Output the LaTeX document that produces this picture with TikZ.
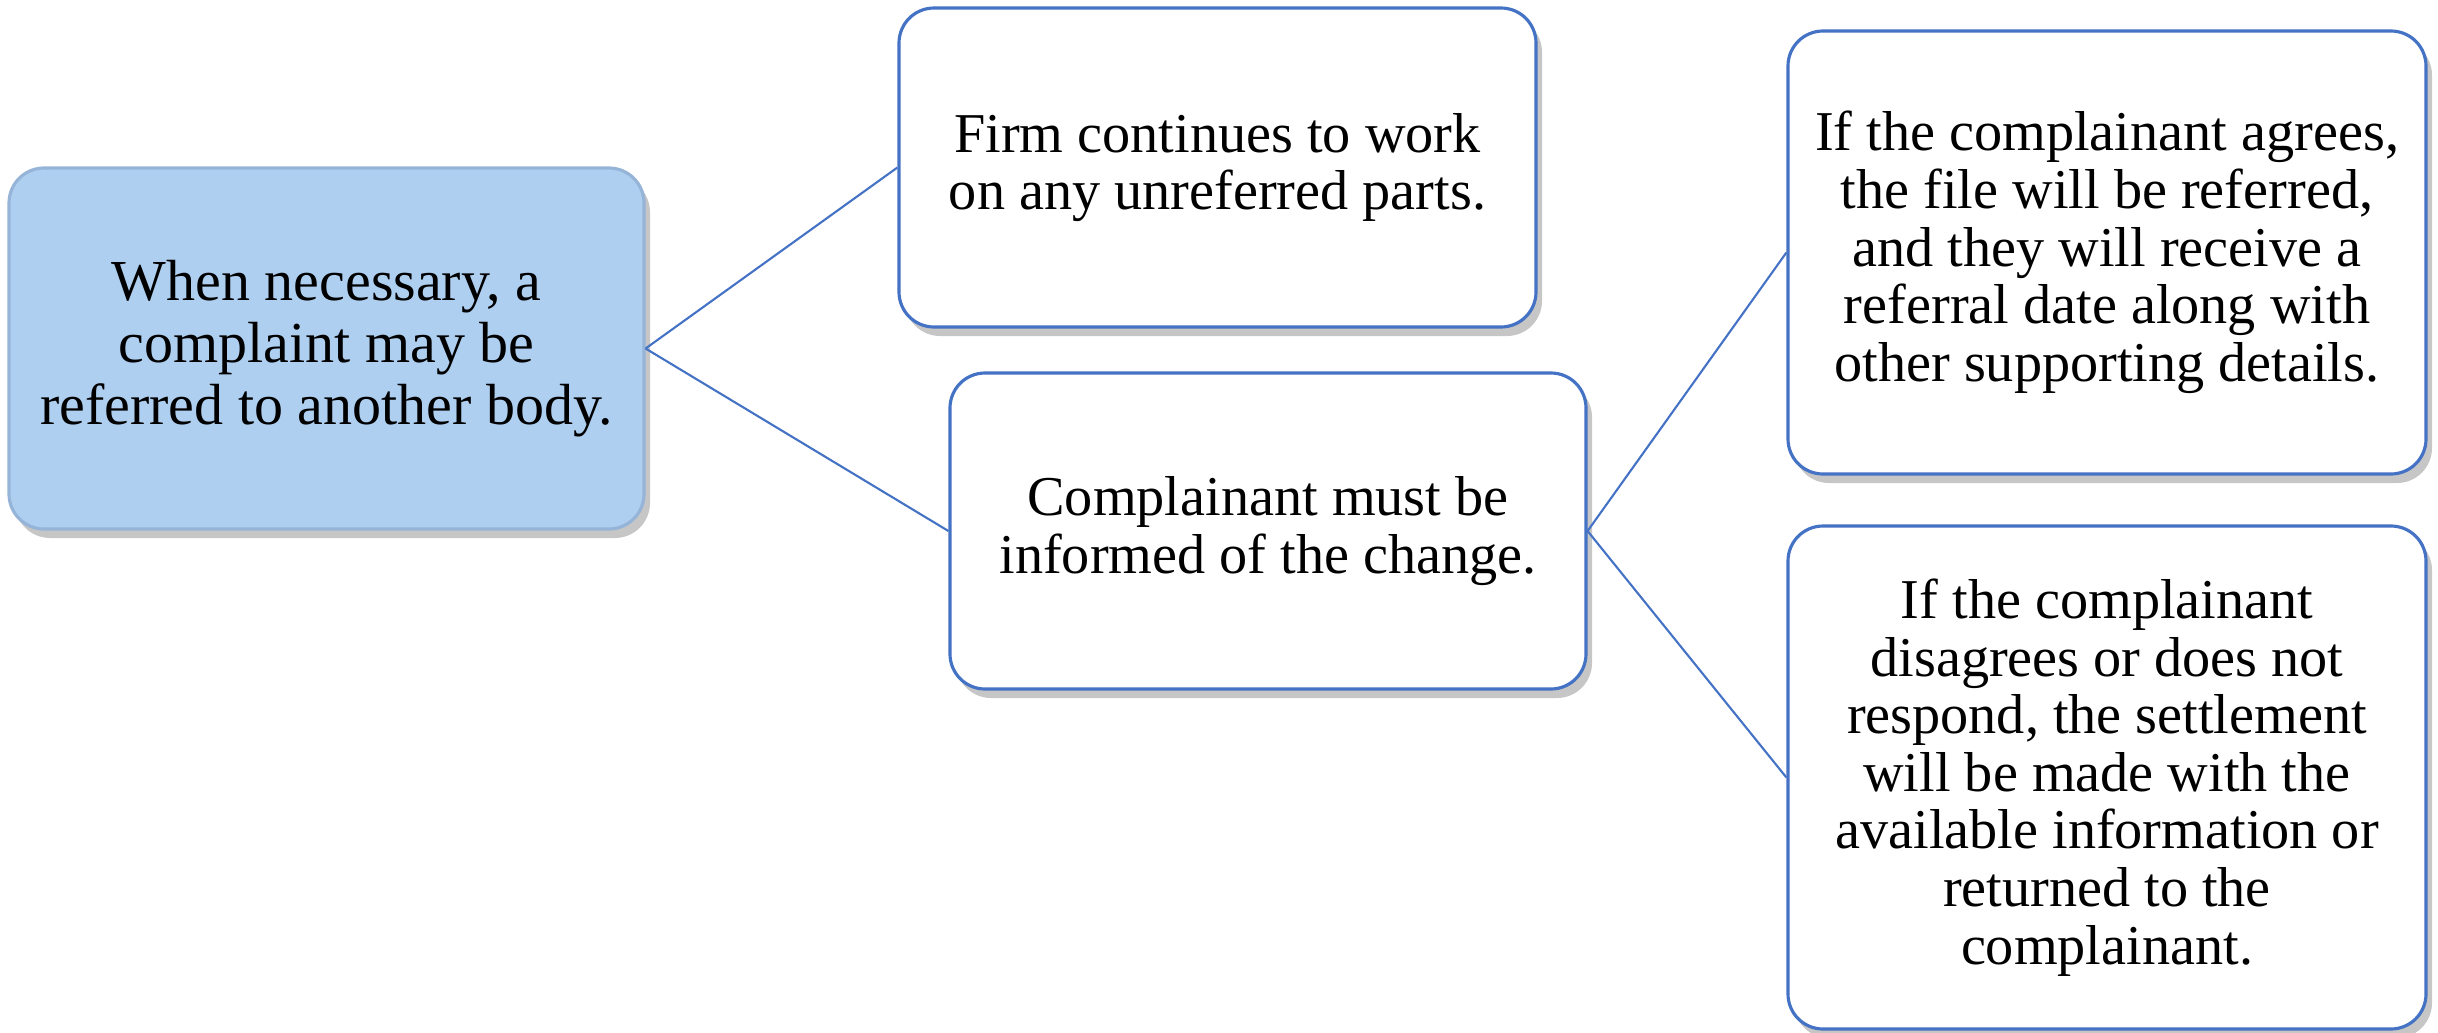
\documentclass[tikz,border=0pt]{standalone}
\usepackage{fontspec}
\setmainfont{Liberation Serif}
\usetikzlibrary{shadows}
\definecolor{linkblue}{RGB}{68,114,196}
\definecolor{rootfill}{RGB}{174,207,240}
\definecolor{rootedge}{RGB}{150,180,215}

\begin{document}
\begin{tikzpicture}
	\useasboundingbox (0,0) rectangle (24.38,10.32);
	\tikzstyle{box}=[rectangle,rounded corners=0.35cm,draw=linkblue,line width=0.9pt,fill=white,
		align=center,inner sep=0pt,font=\fontsize{16}{16.4}\selectfont,
		drop shadow={shadow xshift=0.6mm,shadow yshift=-0.9mm,opacity=0.45}]
	\tikzstyle{link}=[draw=linkblue,line width=0.6pt]
	\node[box,fill=rootfill,draw=rootedge,minimum width=6.35cm,minimum height=3.61cm,
		font=\fontsize{16.5}{17.6}\selectfont](root) at (3.265,6.835)
		{When necessary, a\\complaint may be\\referred to another body.};
	\node[box,minimum width=6.37cm,minimum height=3.19cm](firm) at (12.175,8.645)
		{Firm continues to work\\on any unreferred parts.};
	\node[box,minimum width=6.36cm,minimum height=3.16cm](inform) at (12.68,5.01)
		{Complainant must be\\informed of the change.};
	\node[box,minimum width=6.38cm,minimum height=4.43cm](agree) at (21.07,7.795)
		{If the complainant agrees,\\the file will be referred,\\and they will receive a\\referral date along with\\other supporting details.};
	\node[box,minimum width=6.38cm,minimum height=5.03cm](refuse) at (21.07,2.545)
		{If the complainant\\disagrees or does not\\respond, the settlement\\will be made with the\\available information or\\returned to the\\complainant.};
	\draw[link] (root.east) to (firm.west);
	\draw[link] (root.east) to (inform.west);
	\draw[link] (inform.east) to (agree.west);
	\draw[link] (inform.east) to (refuse.west);
\end{tikzpicture}
\end{document}
